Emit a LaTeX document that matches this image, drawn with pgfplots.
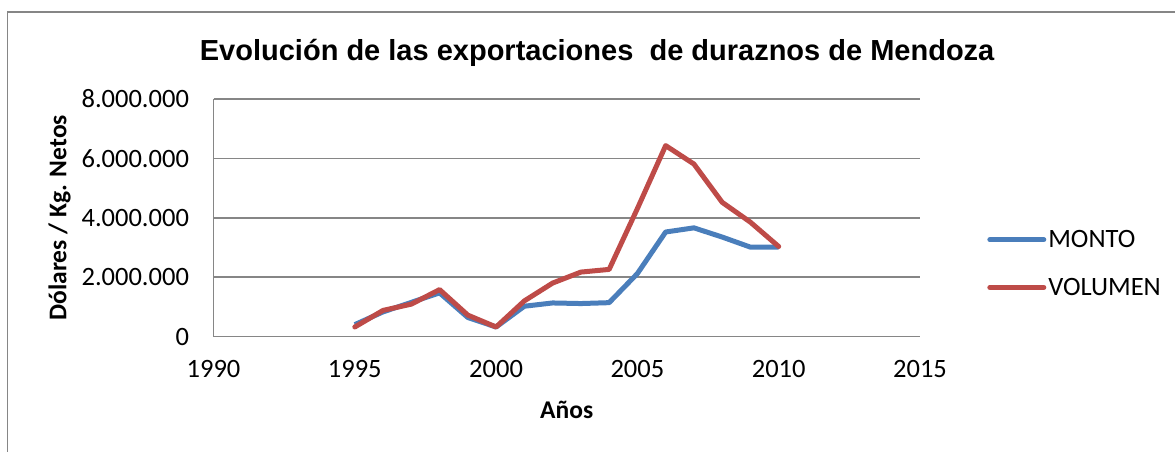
\documentclass[border=0pt]{standalone}
\usepackage{fontspec}
\setmainfont{Carlito}
\newfontfamily\titlefont{Liberation Sans}
\usepackage{pgfplots}
\pgfplotsset{compat=1.18}

\definecolor{montoblue}{HTML}{4A7EBB}
\definecolor{volred}{HTML}{BE4B48}
\definecolor{gridgray}{HTML}{868686}

% one pt = one pixel of the reference
\pgfplotstableread{
anio  monto    volumen
1995  400000   320000
1996  830000   880000
1997  1150000  1090000
1998  1470000  1580000
1999  640000   720000
2000  320000   320000
2001  1020000  1200000
2002  1130000  1800000
2003  1110000  2170000
2004  1140000  2260000
2005  2120000  4310000
2006  3520000  6430000
2007  3660000  5810000
2008  3350000  4520000
2009  3010000  3850000
2010  3010000  3030000
}\datos

\begin{document}
\begin{tikzpicture}
\useasboundingbox (0pt,0pt) rectangle (1175pt,-452pt);
% chart frame (only the top and left edges fall inside the image)
\draw[gridgray, line width=1.5pt] (7.5pt,-452pt) -- (7.5pt,-12pt) -- (1175pt,-12pt);

\begin{axis}[
  at={(213.5pt,-336.5pt)}, anchor=south west,
  scale only axis,
  width=706.5pt, height=237.5pt,
  xmin=1990, xmax=2015,
  ymin=0, ymax=8000000,
  xtick={1990,1995,2000,2005,2010,2015},
  ytick={0,2000000,4000000,6000000,8000000},
  scaled y ticks=false,
  /pgf/number format/assume math mode=true,
  xticklabel={\pgfmathprintnumber[1000 sep={}]{\tick}},
  yticklabel={\pgfmathprintnumber[fixed, precision=0, 1000 sep={.}]{\tick}},
  tick label style={font=\fontsize{26.5}{26.5}\selectfont},
  xticklabel style={yshift=-20pt},
  yticklabel style={xshift=-21pt},
  major tick length=0pt,
  axis x line*=bottom, axis y line*=left,
  axis line style={gridgray, line width=1.5pt, -},
  ymajorgrids,
  grid style={gridgray, line width=1.5pt},
  title={\titlefont\bfseries Evolución de las exportaciones \ de duraznos de Mendoza},
  title style={font=\fontsize{29}{29}\selectfont, at={(axis description cs:0.543,1.17)}, anchor=center},
  xlabel={\bfseries Años},
  xlabel style={font=\fontsize{25.5}{25.5}\selectfont, at={(axis description cs:0.5,-0.31)}, anchor=center},
  ylabel={\bfseries Dólares / Kg. Netos},
  ylabel style={font=\fontsize{25.5}{25.5}\selectfont, at={(axis description cs:-0.218,0.5)}, anchor=center},
  legend style={at={(axis description cs:1.095,0.307)}, anchor=west, draw=none,
    font=\fontsize{26.5}{26.5}\selectfont, inner sep=0pt, row sep=25pt,
    nodes={inner sep=2pt}},
  legend cell align=left,
  legend image code/.code={\draw[#1, line width=5pt, line cap=round] (0pt,0pt) -- (54pt,0pt);},
  clip=false,
]
\addplot[montoblue, line width=5pt, line join=round, no marks] table[x=anio, y=monto] {\datos};
\addlegendentry{MONTO}
\addplot[volred, line width=5pt, line join=round, line cap=round, no marks] table[x=anio, y=volumen] {\datos};
\addlegendentry{VOLUMEN}
\end{axis}
\end{tikzpicture}
\end{document}
